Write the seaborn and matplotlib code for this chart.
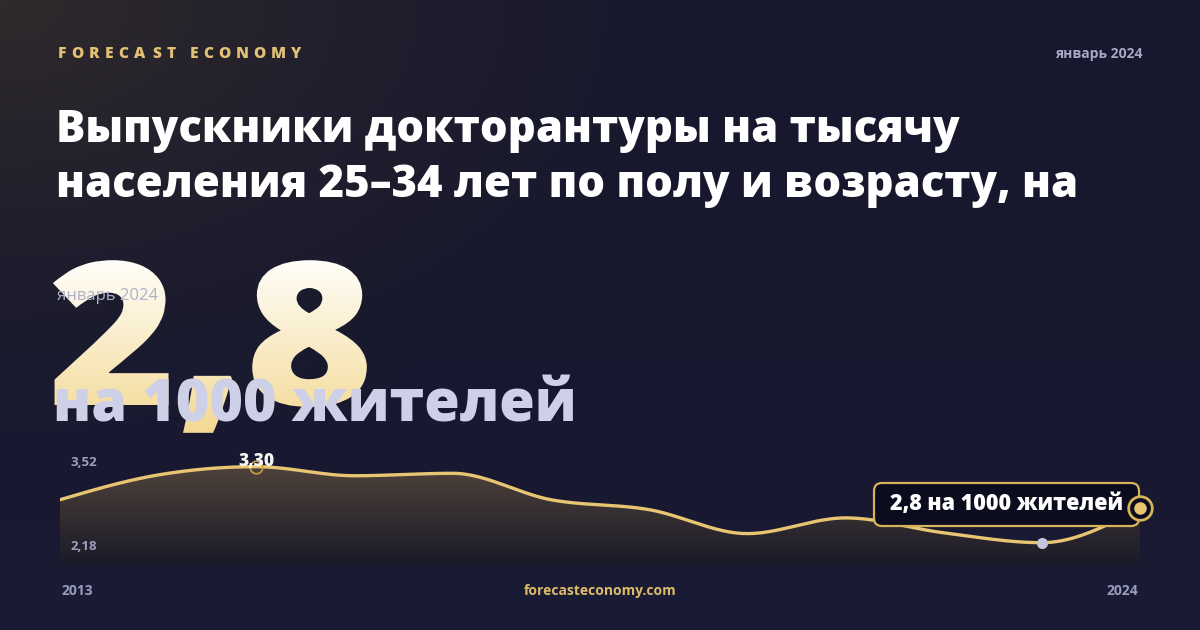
import numpy as np
import pandas as pd
import matplotlib
matplotlib.use("Agg")
import matplotlib.pyplot as plt
import seaborn as sns
from matplotlib import font_manager as fm
from matplotlib.textpath import TextPath
from matplotlib.font_manager import FontProperties
from matplotlib.patches import PathPatch, FancyBboxPatch
from matplotlib.transforms import Affine2D

# ---------------- data ----------------
years = [2013, 2014, 2015, 2016, 2017, 2018, 2019, 2020, 2021, 2022, 2023, 2024]
values = [2.90, 3.20, 3.30, 3.19, 3.22, 2.90, 2.78, 2.49, 2.68, 2.50, 2.38, 2.80]
y_labels = ["3,52", "2,18"]
x_labels = ["2013", "2024"]
brand = "FORECAST ECONOMY"
date_label = "январь 2024"
title_lines = ["Выпускники докторантуры на тысячу",
               "населения 25–34 лет по полу и возрасту, на"]
big_value = "2,8"
big_unit = "на 1000 жителей"
callout = "2,8 на 1000 жителей"
peak_label = "3,30"
site = "forecasteconomy.com"

GOLD = "#e8c572"
LAV = "#a6a8c6"

sns.set_theme(style="dark")
plt.rcParams["font.family"] = ["Open Sans", "DejaVu Sans"]


def _w(v):
    if isinstance(v, str):
        return fm.weight_dict.get(v, 400)
    return int(v)


def pick(families, target):
    for fam in families:
        c = [f for f in fm.fontManager.ttflist
             if f.name == fam and f.style == "normal"]
        if c:
            best = min(c, key=lambda f: abs(_w(f.weight) - target))
            return FontProperties(fname=best.fname)
    return FontProperties(family="DejaVu Sans", weight="bold")


HEAVY = pick(["Open Sans", "Lato", "Roboto"], 800)
SEMI = pick(["Open Sans", "Lato", "Roboto"], 700)
REG = pick(["Open Sans", "Lato", "Roboto"], 400)


def fp(base, size):
    p = base.copy()
    p.set_size(size)
    return p


W, H = 1200, 630
fig = plt.figure(figsize=(12, 6.3), dpi=100)

# ---------------- background ----------------
bg = fig.add_axes([0, 0, 1, 1], zorder=0)
bg.set_axis_off()
yy, xx = np.mgrid[0:H, 0:W]
navy = np.array([23, 24, 46]) / 255
brown = np.array([48, 42, 44]) / 255
d = np.sqrt((xx / 760.0) ** 2 + (yy / 470.0) ** 2)
w = np.clip(1 - d, 0, 1) ** 1.4
bot = np.clip((yy - 300) / 330.0, 0, 1)[..., None] * (np.array([3, 3, 6]) / 255)
img = navy * (1 - w[..., None]) + brown * w[..., None] + bot
bg.imshow(img, extent=(0, W, H, 0), origin="upper", aspect="auto", zorder=0)
bg.set_xlim(0, W)
bg.set_ylim(H, 0)

# header: letter-spaced brand
brand_px = 15.5
bfp = fp(HEAVY, brand_px * 72 / 100)
bearing = 1.5
glyph_w = [TextPath((0, 0), ch, size=brand_px, prop=HEAVY).get_extents().width + bearing
           if ch != " " else 0.0 for ch in brand]
n_gaps = len(brand) - 1
word_extra = 3.0
track = (302 - 58 - sum(glyph_w) - word_extra) / n_gaps
xc = 58.0
for ch, gw in zip(brand, glyph_w):
    if ch == " ":
        xc += word_extra + track
        continue
    bg.text(xc, 58, ch, color="#e2c175", fontproperties=bfp, va="baseline", ha="left")
    xc += gw + track

bg.text(1143, 54, date_label, color=LAV, fontproperties=fp(SEMI, 10),
        va="center", ha="right")
for i, line in enumerate(title_lines):
    bg.text(56, 142 + i * 55, line, color="white", fontproperties=fp(HEAVY, 31.4),
            va="baseline", ha="left")

# big gradient number
tp = TextPath((0, 0), big_value, size=200, prop=HEAVY)
trans = Affine2D().scale(1.1, -1).translate(48, 405) + bg.transData
patch = PathPatch(tp, transform=trans, facecolor="none", edgecolor="none")
bg.add_patch(patch)
grad = np.linspace(0, 1, 256)[:, None]
top_c = np.array([255, 255, 252]) / 255
bot_c = np.array([243, 214, 140]) / 255
gimg = top_c * (1 - grad[..., None]) + bot_c * grad[..., None]
gimg = np.repeat(gimg, 2, axis=1)
gi = bg.imshow(gimg, extent=(40, 420, 445, 255), origin="upper", aspect="auto", zorder=2)
gi.set_clip_path(patch)
bg.set_xlim(0, W)
bg.set_ylim(H, 0)

bg.text(57, 296, date_label, color="#aeb0cc", fontproperties=fp(REG, 12),
        va="center", ha="left", zorder=3)
bg.text(53, 422, big_unit, color="#cdd0e6", fontproperties=fp(HEAVY, 41.5),
        va="baseline", ha="left", zorder=3)

# footer
bg.text(62, 591, x_labels[0], color="#9a9cbb", fontproperties=fp(SEMI, 10), va="center", ha="left")
bg.text(1138, 591, x_labels[1], color="#9a9cbb", fontproperties=fp(SEMI, 10), va="center", ha="right")
bg.text(600, 591, site, color="#dcbb6a", fontproperties=fp(SEMI, 10), va="center", ha="center")

# ---------------- chart ----------------
def monotone(x, y, n=40):
    x = np.asarray(x, float); y = np.asarray(y, float)
    h = np.diff(x); s = np.diff(y) / h
    m = np.zeros_like(y)
    for i in range(1, len(y) - 1):
        s0, s1 = s[i - 1], s[i]
        p = (s0 * h[i] + s1 * h[i - 1]) / (h[i - 1] + h[i])
        m[i] = (np.sign(s0) + np.sign(s1)) * min(abs(s0), abs(s1), 0.5 * abs(p))
    m[0] = (3 * s[0] - m[1]) / 2
    m[-1] = (3 * s[-1] - m[-2]) / 2
    xs, ys = [], []
    for i in range(len(h)):
        t = np.linspace(0, 1, n, endpoint=(i == len(h) - 1))
        h00 = 2 * t**3 - 3 * t**2 + 1; h10 = t**3 - 2 * t**2 + t
        h01 = -2 * t**3 + 3 * t**2; h11 = t**3 - t**2
        xs.append(x[i] + t * h[i])
        ys.append(h00 * y[i] + h10 * h[i] * m[i] + h01 * y[i + 1] + h11 * h[i] * m[i + 1])
    return np.concatenate(xs), np.concatenate(ys)

ax = fig.add_axes([60 / W, (H - 565) / H, 1080 / W, 117 / H], zorder=1)
ax.set_facecolor("none")
ax.set_axis_off()
ymin, ymax = 2.11, 3.526
ax.set_xlim(years[0], years[-1])
ax.set_ylim(ymin, ymax)

sx, sy = monotone(years, values)
smooth = pd.DataFrame({"year": sx, "value": sy})

poly = ax.fill_between(smooth["year"], smooth["value"], ymin, facecolor="none", edgecolor="none")
fg = np.linspace(0, 1, 256)[:, None]
ftop = np.array([78, 66, 58]) / 255
fbot = np.array([27, 26, 40]) / 255
fimg = ftop * (1 - fg[..., None]) + fbot * fg[..., None]
fimg = np.repeat(fimg, 2, axis=1)
fi = ax.imshow(fimg, extent=(years[0], years[-1], ymin, 3.30), origin="upper",
               aspect="auto", zorder=1)
fi.set_clip_path(poly.get_paths()[0], transform=ax.transData)
ax.set_xlim(years[0], years[-1])
ax.set_ylim(ymin, ymax)

sns.lineplot(data=smooth, x="year", y="value", ax=ax, color=GOLD, linewidth=2.4,
             zorder=3, legend=False)
ax.set_axis_off()

i_max = int(np.argmax(values)); i_min = int(np.argmin(values))
ax.plot(years[i_max], values[i_max], "o", ms=9, mfc="none", mec="#c9a04a", mew=1.2, zorder=4)
ax.annotate(peak_label, (years[i_max], values[i_max]), xytext=(0, 4), textcoords="offset points",
            ha="center", va="center", color="white", fontproperties=fp(HEAVY, 12.5), zorder=5,
            alpha=0.95)
ax.plot(years[i_min], values[i_min], "o", ms=8, mfc="#c3c6de", mec="none", zorder=4)

ax.text(0.01, 0.88, y_labels[0], transform=ax.transAxes, color="#9d9fbf",
        fontproperties=fp(SEMI, 9.5), va="center", ha="left")
ax.text(0.01, 0.155, y_labels[1], transform=ax.transAxes, color="#9d9fbf",
        fontproperties=fp(SEMI, 9.5), va="center", ha="left")

box = FancyBboxPatch((874, 483), 265, 43, boxstyle="round,pad=0,rounding_size=8",
                     transform=bg.transData, facecolor="#0b0c1d", edgecolor="#d6b259",
                     linewidth=1.6, zorder=6, clip_on=False)
ax.add_patch(box)
ax.text(1007, 504, callout, transform=bg.transData, color="white",
        fontproperties=fp(HEAVY, 15.5), va="center", ha="center", zorder=7, clip_on=False)

ax.plot(years[-1], values[-1], "o", ms=17, mfc="#0b0c1d", mec="#d6b259", mew=2,
        zorder=8, clip_on=False)
ax.plot(years[-1], values[-1], "o", ms=9, mfc="#e8c572", mec="none", zorder=9, clip_on=False)

fig.savefig("out.png", dpi=100)
